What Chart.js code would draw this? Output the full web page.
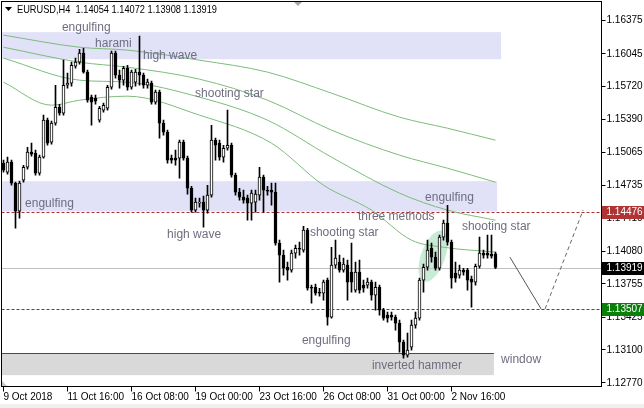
<!DOCTYPE html>
<html>
<head>
<meta charset="utf-8">
<script src="https://cdn.jsdelivr.net/npm/chart.js@4.4.1/dist/chart.umd.min.js"></script>
<style>
  html, body { margin: 0; padding: 0; background: #fff; }
  canvas { display: block; }
</style>
</head>
<body>
<canvas id="chart" width="644" height="408"></canvas>
<script>
// EURUSD H4 candles
var opens = [1.14957,1.14868,1.14967,1.14758,1.14480,1.14788,1.14917,1.15067,1.15057,1.14858,
  1.15017,1.15385,1.15166,1.15355,1.15514,1.15455,1.15733,1.15753,1.15922,1.15962,
  1.16052,1.15863,1.15614,1.15604,1.15385,1.15485,1.15504,1.15713,1.16052,1.15833,
  1.15783,1.15902,1.15713,1.15763,1.15863,1.15833,1.15733,1.15753,1.15564,1.15664,
  1.15355,1.15266,1.15007,1.15007,1.15007,1.15166,1.15007,1.14708,1.14490,1.14559,
  1.14569,1.14490,1.14639,1.15186,1.15156,1.15017,1.15106,1.15136,1.14838,1.14669,
  1.14619,1.14609,1.14559,1.14569,1.14639,1.14818,1.14689,1.14689,1.14669,1.14161,
  1.14042,1.13922,1.13893,1.14062,1.14111,1.14092,1.14291,1.13723,1.13723,1.13674,
  1.13664,1.13793,1.13425,1.13942,1.13972,1.13893,1.13942,1.13873,1.13694,1.13873,
  1.13743,1.13743,1.13773,1.13644,1.13723,1.13495,1.13445,1.13445,1.13425,1.13365,
  1.13176,1.13047,1.13126,1.13345,1.13415,1.13793,1.13922,1.14111,1.14022,1.13912,
  1.14221,1.14360,1.14171,1.13863,1.13843,1.13893,1.13893,1.13803,1.13773,1.13932,
  1.14062,1.14062,1.14052,1.14054];
var highs = [1.14987,1.15017,1.14987,1.14768,1.14778,1.14937,1.15116,1.15156,1.15087,1.15037,
  1.15435,1.15405,1.15375,1.15733,1.15544,1.15982,1.15853,1.15962,1.16002,1.16091,
  1.16101,1.15883,1.15634,1.15634,1.15524,1.15554,1.15733,1.16072,1.16072,1.15883,
  1.15922,1.15932,1.15883,1.15892,1.16221,1.15853,1.15793,1.15773,1.15684,1.15684,
  1.15385,1.15286,1.15037,1.15087,1.15186,1.15186,1.15027,1.14728,1.14609,1.14609,
  1.14629,1.14738,1.15335,1.15206,1.15186,1.15136,1.15485,1.15156,1.14858,1.14708,
  1.14689,1.14639,1.14689,1.14689,1.14917,1.14838,1.14728,1.14758,1.14758,1.14191,
  1.14092,1.13972,1.14092,1.14141,1.14171,1.14330,1.14310,1.13743,1.13753,1.13713,
  1.13793,1.13813,1.14121,1.14191,1.14042,1.14012,1.13992,1.14161,1.13972,1.13992,
  1.13793,1.13813,1.13793,1.13773,1.13743,1.13514,1.13475,1.13475,1.13445,1.13395,
  1.13196,1.13266,1.13395,1.13475,1.13813,1.13952,1.14191,1.14161,1.14072,1.14241,
  1.14390,1.14539,1.14191,1.13972,1.13942,1.13912,1.13912,1.13833,1.13952,1.14221,
  1.14092,1.14241,1.14241,1.14072];
var lows = [1.14868,1.14848,1.14738,1.14310,1.14410,1.14768,1.14897,1.15027,1.14838,1.14838,
  1.15007,1.15136,1.15146,1.15335,1.15435,1.15435,1.15703,1.15723,1.15902,1.15942,
  1.15853,1.15564,1.15335,1.15544,1.15365,1.15465,1.15485,1.15693,1.15803,1.15703,
  1.15733,1.15684,1.15693,1.15723,1.15733,1.15703,1.15703,1.15544,1.15544,1.15206,
  1.15236,1.14957,1.14957,1.14937,1.14808,1.14987,1.14649,1.14470,1.14470,1.14519,
  1.14320,1.14460,1.14619,1.14987,1.14987,1.14967,1.15087,1.14818,1.14639,1.14589,
  1.14559,1.14390,1.14390,1.14470,1.14589,1.14470,1.14639,1.14539,1.14141,1.13773,
  1.13843,1.13793,1.13873,1.14012,1.14042,1.14072,1.13694,1.13564,1.13644,1.13634,
  1.13594,1.13345,1.13415,1.13912,1.13873,1.13873,1.13594,1.13674,1.13674,1.13664,
  1.13674,1.13713,1.13594,1.13495,1.13445,1.13395,1.13375,1.13395,1.13296,1.13077,
  1.13017,1.13027,1.13097,1.13315,1.13395,1.13674,1.13893,1.13972,1.13893,1.13893,
  1.14191,1.14141,1.13713,1.13773,1.13813,1.13843,1.13694,1.13524,1.13743,1.13912,
  1.14012,1.14012,1.14012,1.13908];
var closes = [1.14888,1.14967,1.14758,1.14480,1.14758,1.14917,1.15067,1.15047,1.14858,1.15017,
  1.15385,1.15156,1.15355,1.15514,1.15455,1.15733,1.15753,1.15932,1.15962,1.16052,
  1.15863,1.15584,1.15564,1.15574,1.15504,1.15534,1.15713,1.16052,1.15833,1.15783,
  1.15902,1.15713,1.15863,1.15863,1.15833,1.15733,1.15763,1.15564,1.15664,1.15355,
  1.15266,1.14987,1.14987,1.14987,1.15166,1.15007,1.14708,1.14490,1.14569,1.14569,
  1.14490,1.14639,1.15186,1.15136,1.15017,1.15106,1.15136,1.14838,1.14669,1.14619,
  1.14589,1.14559,1.14659,1.14649,1.14818,1.14689,1.14679,1.14669,1.14161,1.14042,
  1.13912,1.13893,1.14062,1.14111,1.14101,1.14291,1.13713,1.13713,1.13664,1.13664,
  1.13773,1.13425,1.13942,1.14012,1.13893,1.13952,1.13773,1.13773,1.13873,1.13694,
  1.13713,1.13773,1.13644,1.13723,1.13495,1.13415,1.13415,1.13425,1.13365,1.13176,
  1.13047,1.13097,1.13345,1.13415,1.13793,1.13922,1.14092,1.14022,1.13912,1.14221,
  1.14360,1.14171,1.13813,1.13813,1.13893,1.13873,1.13793,1.13773,1.13932,1.14062,
  1.14042,1.14042,1.14032,1.13919];

// moving averages, [bar index, price]
var ma1 = [[0,1.16231],[19,1.16111],[31,1.16082],[49,1.15982],[66,1.15863],[82,1.15654],[99,1.15415],[111,1.15305],[123,1.15186]];
var ma2 = [[0,1.16111],[19,1.15962],[31,1.15912],[49,1.15793],[66,1.15584],[82,1.15286],[99,1.15037],[111,1.14907],[123,1.14768]];
var ma3 = [[0,1.16002],[19,1.15783],[31,1.15763],[49,1.15614],[66,1.15385],[82,1.15017],[99,1.14659],[111,1.14490],[123,1.14390]];
var ma4 = [[0,1.15763],[12,1.15534],[19,1.15584],[31,1.15624],[49,1.15435],[67,1.15156],[80,1.14738],[92,1.14490],[102,1.14191],[110,1.14121],[123,1.14072]];

var yTicks = [1.16375,1.16045,1.15720,1.15390,1.15065,1.14735,1.14410,1.14080,1.13755,1.13425,1.13100,1.12770];
var xTickLabels = ['9 Oct 2018','11 Oct 16:00','16 Oct 08:00','19 Oct 00:00','23 Oct 16:00','26 Oct 08:00','31 Oct 00:00','2 Nov 16:00'];
var barsPerTick = 16;
var totalBars = 150;

var resistance = 1.14476;
var support = 1.13507;

// [text, bar index of left edge, price]
var notes = [
  ['engulfing', 14.6, 1.16305], ['harami', 22.9, 1.16151], ['high wave', 34.9, 1.16022],
  ['shooting star', 47.9, 1.15644], ['engulfing', 5.4, 1.14559], ['high wave', 40.9, 1.14241],
  ['shooting star', 76.6, 1.14261], ['three methods', 88.6, 1.14420], ['engulfing', 105.4, 1.14614],
  ['shooting star', 114.6, 1.14330], ['engulfing', 74.6, 1.13186], ['inverted hammer', 92.1, 1.12947],
  ['window', 124.4, 1.12997]
];

var labels = [];
for (var i = 0; i < totalBars; i++) labels.push(i);

function pairs(a) { return a.map(function (p) { return { x: p[0], y: p[1] }; }); }

var font = 'Liberation Sans, Arial, sans-serif';

var overlay = {
  id: 'overlay',
  beforeDatasetsDraw: function (chart) {
    var ctx = chart.ctx, ca = chart.chartArea;
    var px = function (v) { return chart.scales.x.getPixelForValue(v); };
    var py = function (v) { return chart.scales.y.getPixelForValue(v); };
    ctx.save();
    // zones
    ctx.fillStyle = '#e1e1f7';
    ctx.fillRect(ca.left, py(1.16261), px(124.4) - ca.left, py(1.15992) - py(1.16261));
    ctx.fillRect(ca.left, py(1.14778), px(123.4) - ca.left, py(resistance) - py(1.14778));
    ctx.fillStyle = '#d9d9d9';
    ctx.fillRect(ca.left, py(1.13067), px(122.6) - ca.left, py(1.12848) - py(1.13067));
    ctx.strokeStyle = '#3d4f4f';
    ctx.lineWidth = 1;
    ctx.beginPath();
    ctx.moveTo(ca.left, Math.round(py(1.13067)) + 0.5);
    ctx.lineTo(px(122.6), Math.round(py(1.13067)) + 0.5);
    ctx.stroke();
    // three methods highlight
    ctx.fillStyle = 'rgba(170,225,190,0.65)';
    ctx.beginPath();
    ctx.ellipse(px(107.4), py(1.14032), 12, 27, 0.35, 0, Math.PI * 2);
    ctx.fill();
    // levels
    var hline = function (v, color, dash) {
      var y = Math.round(py(v)) + 0.5;
      ctx.strokeStyle = color;
      ctx.setLineDash(dash);
      ctx.beginPath();
      ctx.moveTo(ca.left, y);
      ctx.lineTo(ca.right, y);
      ctx.stroke();
    };
    hline(closes[closes.length - 1], '#c0c0c0', []);
    hline(resistance, '#a83232', [3, 2]);
    hline(support, '#0a780a', [3, 2]);
    ctx.restore();
  },
  afterDatasetsDraw: function (chart) {
    var ctx = chart.ctx;
    var px = function (v) { return chart.scales.x.getPixelForValue(v); };
    var py = function (v) { return chart.scales.y.getPixelForValue(v); };
    ctx.save();
    ctx.font = '12px ' + font;
    ctx.fillStyle = '#6e6e80';
    ctx.textAlign = 'left';
    ctx.textBaseline = 'middle';
    notes.forEach(function (n) { ctx.fillText(n[0], px(n[1]), py(n[2])); });
    // projected path
    ctx.lineWidth = 1;
    ctx.strokeStyle = '#555';
    ctx.beginPath();
    ctx.moveTo(px(126.6), py(1.14022));
    ctx.lineTo(px(134.4), py(support));
    ctx.stroke();
    ctx.strokeStyle = '#666';
    ctx.setLineDash([4, 3]);
    ctx.beginPath();
    ctx.moveTo(px(135.4), py(support));
    ctx.lineTo(px(144.9), py(1.14490));
    ctx.stroke();
    ctx.restore();
  },
  afterDraw: function (chart) {
    var ctx = chart.ctx, ca = chart.chartArea;
    var py = function (v) { return chart.scales.y.getPixelForValue(v); };
    ctx.save();
    ctx.strokeStyle = '#000';
    ctx.lineWidth = 1;
    ctx.strokeRect(ca.left, ca.top, ca.right - ca.left, ca.bottom - ca.top);
    // price tags
    var tag = function (v, bg) {
      var y = Math.round(py(v));
      ctx.fillStyle = bg;
      ctx.fillRect(ca.right + 0.5, y - 6, 644 - ca.right, 13);
      ctx.fillStyle = '#fff';
      ctx.font = '10px ' + font;
      ctx.textAlign = 'left';
      ctx.textBaseline = 'middle';
      ctx.fillText(v.toFixed(5), ca.right + 5, y + 0.5);
    };
    tag(resistance, '#b03434');
    tag(closes[closes.length - 1], '#000');
    tag(support, '#0a800a');
    // title
    var n = closes.length - 1;
    ctx.fillStyle = '#000';
    ctx.beginPath();
    ctx.moveTo(5, 7); ctx.lineTo(12, 7); ctx.lineTo(8.5, 11); ctx.closePath();
    ctx.fill();
    ctx.font = '11px ' + font;
    ctx.textAlign = 'left';
    ctx.textBaseline = 'middle';
    var title = 'EURUSD,H4  ' + [opens[n], highs[n], lows[n], closes[n]].map(function (v) { return v.toFixed(5); }).join(' ');
    ctx.fillText(title, 17, 9.5, 200);
    // small markers
    ctx.fillStyle = '#a8a8a8';
    ctx.beginPath();
    ctx.moveTo(294, 2); ctx.lineTo(302, 2); ctx.lineTo(298, 6); ctx.closePath();
    ctx.fill();
    ctx.fillStyle = '#c8c8c8';
    ctx.beginPath();
    ctx.moveTo(2, 381); ctx.lineTo(2, 386); ctx.lineTo(7, 386); ctx.closePath();
    ctx.fill();
    ctx.fillStyle = '#efefef';
    ctx.fillRect(0, 404, 644, 4);
    ctx.restore();
  }
};

var maStyle = function (d) {
  return { type: 'line', data: pairs(d), borderColor: '#7cbc7c', borderWidth: 1, pointRadius: 0,
    cubicInterpolationMode: 'monotone', fill: false, order: 2 };
};

var noPad = function (s) { s.paddingTop = 0; s.paddingBottom = 0; s.paddingLeft = 0; s.paddingRight = 0; };

new Chart(document.getElementById('chart').getContext('2d'), {
  type: 'bar',
  data: {
    labels: labels,
    datasets: [
      {
        data: opens.map(function (o, i) { return [o, closes[i]]; }),
        backgroundColor: opens.map(function (o, i) { return closes[i] >= o ? '#fff' : '#000'; }),
        borderColor: '#000', borderWidth: 1, borderSkipped: false,
        barThickness: 3, grouped: false, order: 0
      },
      {
        data: lows.map(function (l, i) { return [l, highs[i]]; }),
        backgroundColor: '#000', borderWidth: 0,
        barThickness: 1, grouped: false, order: 1
      },
      maStyle(ma1), maStyle(ma2), maStyle(ma3), maStyle(ma4)
    ]
  },
  options: {
    responsive: false,
    devicePixelRatio: 1,
    animation: false,
    layout: { padding: { left: 1.5, top: 1.5, right: 0, bottom: 0 } },
    plugins: { legend: { display: false }, tooltip: { enabled: false } },
    scales: {
      x: {
        type: 'category', offset: true,
        grid: { display: true, offset: false, drawOnChartArea: false, drawTicks: true, tickLength: 5, color: '#000' },
        border: { display: false },
        ticks: {
          autoSkip: false, maxRotation: 0, minRotation: 0, align: 'start', padding: 0, color: '#000',
          font: { family: font, size: 10 },
          callback: function (v) { return xTickLabels[v / barsPerTick]; }
        },
        afterBuildTicks: function (s) {
          s.ticks = s.ticks.filter(function (t) { return t.value % barsPerTick === 0 && t.value / barsPerTick < xTickLabels.length; });
        },
        afterFit: function (s) { s.height = 21.5; noPad(s); }
      },
      y: {
        type: 'linear', position: 'right', min: 1.12735, max: 1.16566,
        grid: { drawOnChartArea: false, tickLength: 4, color: '#000' },
        border: { display: false },
        ticks: {
          padding: 1, color: '#000', font: { family: font, size: 10 },
          callback: function (v) { return v.toFixed(5); }
        },
        afterBuildTicks: function (s) { s.ticks = yTicks.map(function (v) { return { value: v }; }); },
        afterFit: function (s) { s.width = 42.5; noPad(s); }
      }
    }
  },
  plugins: [overlay]
});
</script>
</body>
</html>
